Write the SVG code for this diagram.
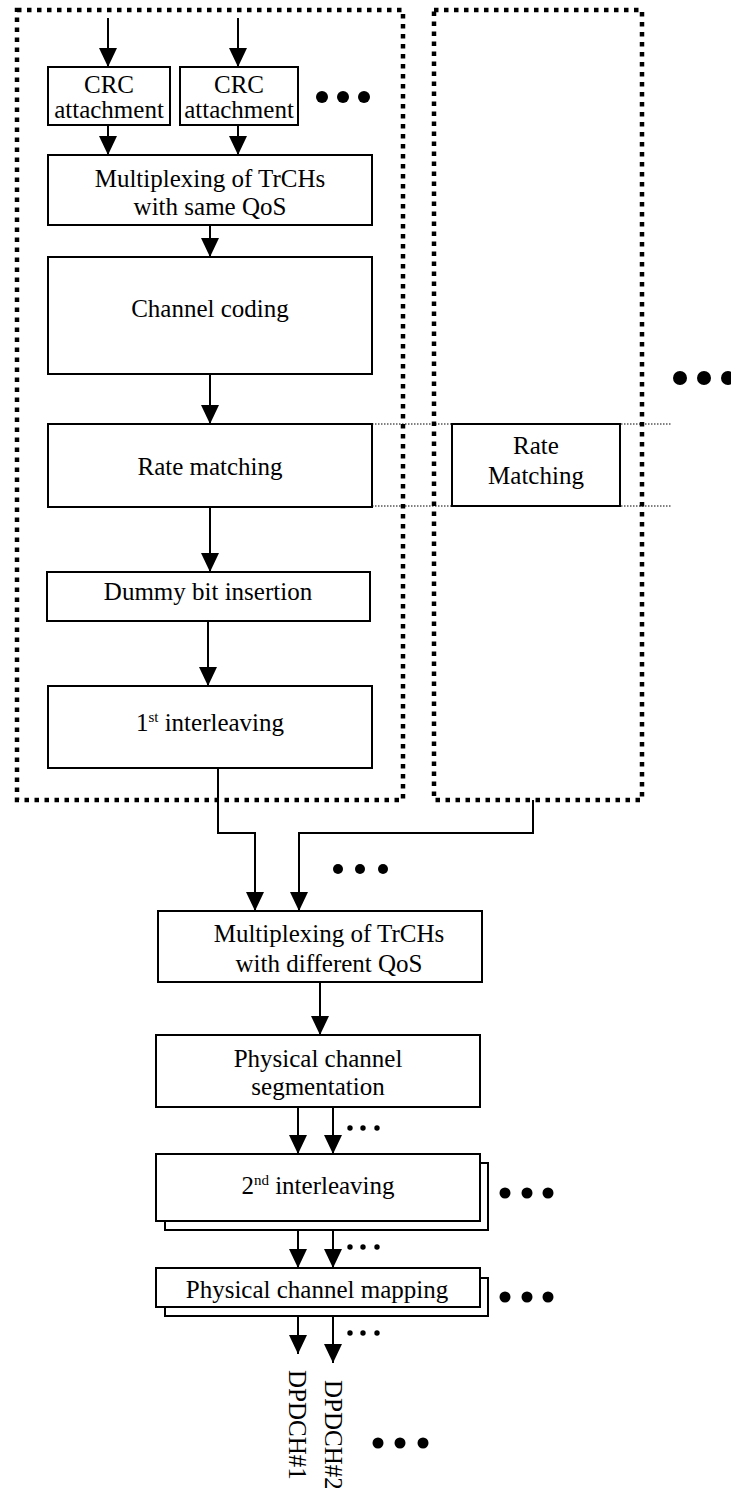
<svg xmlns="http://www.w3.org/2000/svg" width="731" height="1488" viewBox="0 0 731 1488">
<style>
  .box { fill: #fff; stroke: #000; stroke-width: 2; }
  .group { fill: none; stroke: #000; stroke-width: 4.5; stroke-dasharray: 4.5 5.5; }
  .thin { fill: none; stroke: #000; stroke-width: 1; stroke-dasharray: 1.5 1.5; }
  .conn { fill: none; stroke: #000; stroke-width: 2; }
  .arr { marker-end: url(#ah); }
  text { font-family: "Liberation Serif", "Times New Roman", serif; font-size: 25px; fill: #000; text-anchor: middle; }
  .sup { font-size: 15px; }
  .dot { fill: #000; }
</style>
<defs>
  <marker id="ah" markerUnits="userSpaceOnUse" markerWidth="20" markerHeight="18" refX="19" refY="9" orient="auto">
    <path d="M0,0 L19,9 L0,18 Z" fill="#000"/>
  </marker>
</defs>
<rect width="731" height="1488" fill="#fff"/>

<g id="container-left"><rect class="group" x="17" y="10" width="386" height="790"/></g>
<g id="container-right"><rect class="group" x="434" y="10" width="208" height="790"/></g>

<g id="rm-guides">
  <line class="thin" x1="372" y1="424" x2="672" y2="424"/>
  <line class="thin" x1="372" y1="506" x2="672" y2="506"/>
</g>

<g id="connectors">
  <line class="conn arr" x1="108" y1="18" x2="108" y2="67"/>
  <line class="conn arr" x1="238" y1="18" x2="238" y2="67"/>
  <line class="conn arr" x1="108" y1="125" x2="108" y2="155"/>
  <line class="conn arr" x1="238" y1="125" x2="238" y2="155"/>
  <line class="conn arr" x1="210" y1="225" x2="210" y2="257"/>
  <line class="conn arr" x1="210" y1="374" x2="210" y2="424"/>
  <line class="conn arr" x1="210" y1="507" x2="210" y2="572"/>
  <line class="conn arr" x1="208" y1="621" x2="208" y2="686"/>
  <polyline class="conn arr" points="218,768 218,833 255,833 255,911"/>
  <polyline class="conn arr" points="533,800 533,833 299,833 299,911"/>
  <line class="conn arr" x1="320" y1="982" x2="320" y2="1035"/>
  <line class="conn arr" x1="298" y1="1107" x2="298" y2="1154"/>
  <line class="conn arr" x1="333" y1="1107" x2="333" y2="1154"/>
  <line class="conn arr" x1="298" y1="1221" x2="298" y2="1268"/>
  <line class="conn arr" x1="333" y1="1230" x2="333" y2="1268"/>
  <line class="conn arr" x1="298" y1="1307" x2="298" y2="1354"/>
  <line class="conn arr" x1="333" y1="1316" x2="333" y2="1363"/>
</g>

<g id="crc1">
  <rect class="box" x="48" y="67" width="122" height="58"/>
  <text x="109" y="93">CRC</text>
  <text x="109" y="118">attachment</text>
</g>
<g id="crc2">
  <rect class="box" x="180" y="67" width="118" height="58"/>
  <text x="239" y="93">CRC</text>
  <text x="239" y="118">attachment</text>
</g>
<g id="dots-crc">
  <circle class="dot" cx="322" cy="97" r="6"/>
  <circle class="dot" cx="343" cy="97" r="6"/>
  <circle class="dot" cx="364" cy="97" r="6"/>
</g>
<g id="mux-same">
  <rect class="box" x="48" y="155" width="324" height="70"/>
  <text x="210" y="187">Multiplexing of TrCHs</text>
  <text x="210" y="215">with same QoS</text>
</g>
<g id="channel-coding">
  <rect class="box" x="48" y="257" width="324" height="117"/>
  <text x="210" y="317">Channel coding</text>
</g>
<g id="rate-matching">
  <rect class="box" x="48" y="424" width="324" height="83"/>
  <text x="210" y="475">Rate matching</text>
</g>
<g id="dummy">
  <rect class="box" x="47" y="572" width="323" height="49"/>
  <text x="208" y="600">Dummy bit insertion</text>
</g>
<g id="interleaving1">
  <rect class="box" x="48" y="686" width="324" height="82"/>
  <text x="210" y="731">1<tspan class="sup" dy="-9">st</tspan><tspan dy="9">  interleaving</tspan></text>
</g>
<g id="rate-matching-2">
  <rect class="box" x="452" y="424" width="168" height="82"/>
  <text x="536" y="454">Rate</text>
  <text x="536" y="484">Matching</text>
</g>
<g id="dots-right">
  <circle class="dot" cx="680" cy="378" r="7"/>
  <circle class="dot" cx="704" cy="378" r="7"/>
  <circle class="dot" cx="728" cy="378" r="7"/>
</g>
<g id="dots-mux">
  <circle class="dot" cx="338" cy="869" r="5"/>
  <circle class="dot" cx="360" cy="869" r="5"/>
  <circle class="dot" cx="383" cy="869" r="5"/>
</g>
<g id="mux-diff">
  <rect class="box" x="158" y="911" width="324" height="71"/>
  <text x="329" y="942">Multiplexing of TrCHs</text>
  <text x="329" y="972">with different QoS</text>
</g>
<g id="phys-seg">
  <rect class="box" x="156" y="1035" width="324" height="72"/>
  <text x="318" y="1067">Physical channel</text>
  <text x="318" y="1095">segmentation</text>
</g>
<g id="dots-small-1">
  <circle class="dot" cx="350" cy="1128" r="2.7"/>
  <circle class="dot" cx="363" cy="1128" r="2.7"/>
  <circle class="dot" cx="377" cy="1128" r="2.7"/>
</g>
<g id="interleaving2">
  <rect class="box" x="165" y="1163" width="323" height="67"/>
  <rect class="box" x="156" y="1154" width="324" height="67"/>
  <text x="318" y="1194">2<tspan class="sup" dy="-9">nd</tspan><tspan dy="9"> interleaving</tspan></text>
</g>
<g id="dots-int2">
  <circle class="dot" cx="505" cy="1193" r="5.5"/>
  <circle class="dot" cx="527" cy="1193" r="5.5"/>
  <circle class="dot" cx="548" cy="1193" r="5.5"/>
</g>
<g id="dots-small-2">
  <circle class="dot" cx="350" cy="1247" r="2.7"/>
  <circle class="dot" cx="363" cy="1247" r="2.7"/>
  <circle class="dot" cx="377" cy="1247" r="2.7"/>
</g>
<g id="phys-map">
  <rect class="box" x="165" y="1278" width="323" height="38"/>
  <rect class="box" x="156" y="1268" width="324" height="39"/>
  <text x="317" y="1298">Physical channel mapping</text>
</g>
<g id="dots-map">
  <circle class="dot" cx="505" cy="1297" r="5.5"/>
  <circle class="dot" cx="527" cy="1297" r="5.5"/>
  <circle class="dot" cx="548" cy="1297" r="5.5"/>
</g>
<g id="dots-small-3">
  <circle class="dot" cx="350" cy="1333" r="2.7"/>
  <circle class="dot" cx="363" cy="1333" r="2.7"/>
  <circle class="dot" cx="377" cy="1333" r="2.7"/>
</g>
<g id="dpdch1">
  <text x="0" y="0" transform="translate(289,1370) rotate(90)" style="text-anchor:start">DPDCH#1</text>
</g>
<g id="dpdch2">
  <text x="0" y="0" transform="translate(325,1380) rotate(90)" style="text-anchor:start">DPDCH#2</text>
</g>
<g id="dots-bottom">
  <circle class="dot" cx="378" cy="1443" r="5.5"/>
  <circle class="dot" cx="400" cy="1443" r="5.5"/>
  <circle class="dot" cx="423" cy="1443" r="5.5"/>
</g>
</svg>
